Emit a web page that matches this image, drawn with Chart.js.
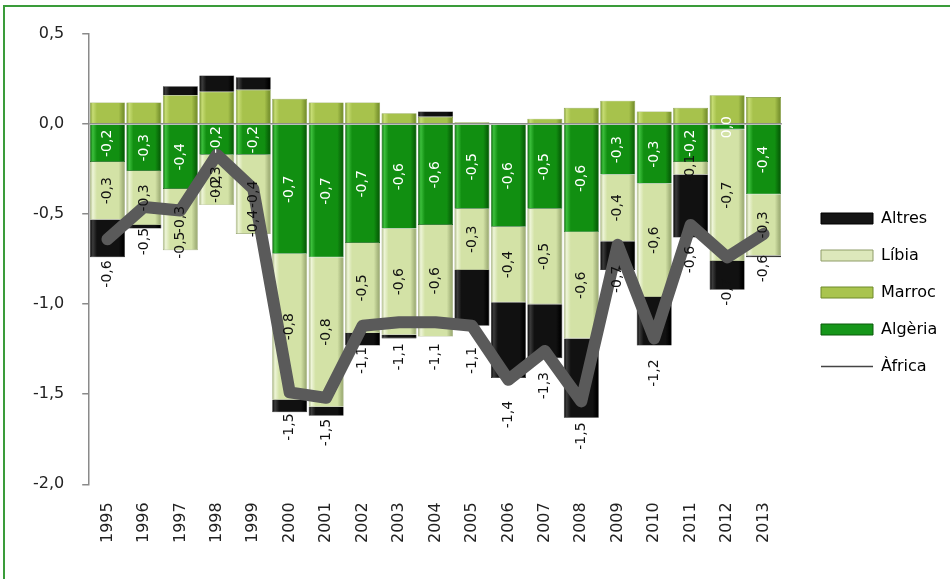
<!DOCTYPE html>
<html>
<head>
<meta charset="utf-8">
<script src="https://cdn.jsdelivr.net/npm/chart.js@4/dist/chart.umd.min.js"></script>
<style>
  html, body { margin: 0; padding: 0; background: #fff; }
  #wrap { position: relative; width: 950px; height: 579px; overflow: hidden; }
  #frame { position: absolute; left: 3px; top: 5px; width: 960px; height: 600px;
           border-left: 2px solid #3a9c3a; border-top: 2px solid #3a9c3a; pointer-events: none; }
  canvas { position: absolute; left: 0; top: 0; }
</style>
</head>
<body>
<div id="wrap">
  <canvas id="c" width="950" height="579"></canvas>
  <div id="frame"></div>
</div>
<script>
const years = ['1995','1996','1997','1998','1999','2000','2001','2002','2003','2004','2005','2006','2007','2008','2009','2010','2011','2012','2013'];
const algeria = [-0.21,-0.26,-0.36,-0.17,-0.17,-0.72,-0.74,-0.66,-0.58,-0.56,-0.47,-0.57,-0.47,-0.60,-0.28,-0.33,-0.21,-0.03,-0.39];
const libia   = [-0.32,-0.30,-0.34,-0.28,-0.44,-0.81,-0.83,-0.50,-0.59,-0.62,-0.34,-0.42,-0.53,-0.59,-0.37,-0.63,-0.07,-0.73,-0.34];
const marroc  = [0.12,0.12,0.16,0.18,0.19,0.14,0.12,0.12,0.06,0.04,0.01,0.005,0.03,0.09,0.13,0.07,0.09,0.16,0.15];
const altres  = [-0.21,-0.02,0.05,0.09,0.07,-0.07,-0.05,-0.07,-0.02,0.03,-0.31,-0.42,-0.30,-0.44,-0.16,-0.27,-0.35,-0.16,-0.01];
const africa  = [-0.64,-0.46,-0.48,-0.17,-0.36,-1.49,-1.52,-1.12,-1.10,-1.10,-1.12,-1.42,-1.26,-1.54,-0.67,-1.19,-0.56,-0.74,-0.61];
const yTicks = [0.5, 0.0, -0.5, -1.0, -1.5, -2.0];

const BAR_PCT = 0.96;
function fmt(v) {
  let s = v.toFixed(1);
  if (s === '-0.0') s = '0.0';
  return s.replace('.', ',');
}
function bevel(base, light, dark) {
  return (ctx) => {
    const chart = ctx.chart;
    if (!chart.chartArea || ctx.type !== 'data') return base;
    const xs = chart.scales.x;
    const cx = xs.getPixelForValue(ctx.dataIndex);
    const w = xs.width / years.length * BAR_PCT;
    const g = chart.ctx.createLinearGradient(cx - w / 2, 0, cx + w / 2, 0);
    g.addColorStop(0, dark);
    g.addColorStop(0.08, light);
    g.addColorStop(0.2, base);
    g.addColorStop(0.82, base);
    g.addColorStop(0.95, dark);
    g.addColorStop(1, dark);
    return g;
  };
}

const labelPlugin = {
  id: 'labels',
  afterDatasetsDraw(chart) {
    const ctx = chart.ctx;
    ctx.save();
    ctx.font = '14px "DejaVu Sans", sans-serif';
    const specs = [
      { ds: 1, color: '#ffffff', vals: algeria },
      { ds: 2, color: '#111111', vals: libia }
    ];
    specs.forEach(sp => {
      const meta = chart.getDatasetMeta(sp.ds);
      meta.data.forEach((el, i) => {
        const y = (el.y + el.base) / 2;
        ctx.save();
        ctx.translate(el.x, y);
        ctx.rotate(-Math.PI / 2);
        ctx.fillStyle = sp.color;
        ctx.textAlign = 'center';
        ctx.textBaseline = 'middle';
        ctx.fillText(fmt(sp.vals[i]), 0, 0);
        ctx.restore();
      });
    });
    const lm = chart.getDatasetMeta(0);
    lm.data.forEach((el, i) => {
      ctx.save();
      ctx.translate(el.x, el.y + 21);
      ctx.rotate(-Math.PI / 2);
      ctx.fillStyle = '#111111';
      ctx.textAlign = 'right';
      ctx.textBaseline = 'middle';
      ctx.fillText(fmt(africa[i]), 0, 0);
      ctx.restore();
    });
    ctx.restore();
  }
};

const legendShift = {
  id: 'legendShift',
  afterLayout(chart) {
    const lg = chart.legend;
    if (!lg) return;
    const dx = 800 - lg.left;
    lg.left += dx; lg.right += dx;
    lg.top -= 5; lg.bottom -= 5;
  }
};

Chart.defaults.font.family = '"DejaVu Sans", sans-serif';
Chart.defaults.font.size = 16;
Chart.defaults.color = '#222';

new Chart(document.getElementById('c'), {
  data: {
    labels: years,
    datasets: [
      { type: 'line', label: 'Àfrica', data: africa, stack: 'line', order: 0,
        borderColor: '#5a5a5a', borderWidth: 12, pointRadius: 0,
        borderJoinStyle: 'round', borderCapStyle: 'round', tension: 0, fill: false },
      { type: 'bar', label: 'Algèria', data: algeria, stack: 's', order: 1,
        backgroundColor: bevel('#118f11', '#3cbf3c', '#076207'), borderColor: '#0a5a0a', borderWidth: 0.6,
        barPercentage: BAR_PCT, categoryPercentage: 1 },
      { type: 'bar', label: 'Líbia', data: libia, stack: 's', order: 1,
        backgroundColor: bevel('#d3e2a6', '#eef5d8', '#a3b27a'), borderColor: '#8f9d68', borderWidth: 0.6,
        barPercentage: BAR_PCT, categoryPercentage: 1 },
      { type: 'bar', label: 'Marroc', data: marroc, stack: 's', order: 1,
        backgroundColor: bevel('#a7c24c', '#c6dc74', '#7b9530'), borderColor: '#6f8a2a', borderWidth: 0.6,
        barPercentage: BAR_PCT, categoryPercentage: 1 },
      { type: 'bar', label: 'Altres', data: altres, stack: 's', order: 1,
        backgroundColor: bevel('#111111', '#3c3c3c', '#000000'), borderColor: '#000', borderWidth: 0.6,
        barPercentage: BAR_PCT, categoryPercentage: 1 }
    ]
  },
  options: {
    responsive: false,
    animation: false,
    events: [],
    layout: { padding: { left: 15, top: 34, right: 21, bottom: 18 } },
    scales: {
      x: {
        stacked: true,
        grid: { display: false, drawTicks: false },
        border: { display: false },
        ticks: { minRotation: 90, maxRotation: 90, padding: 18, autoSkip: false, color: '#222' }
      },
      y: {
        stacked: true,
        min: -2, max: 0.5,
        afterBuildTicks(scale) { scale.ticks = yTicks.map(v => ({ value: v })); },
        grid: {
          color: (c) => (c.tick && c.tick.value === 0 ? '#8a8a8a' : 'rgba(0,0,0,0)'),
          lineWidth: 1.5,
          tickColor: '#8a8a8a', tickLength: 7, drawTicks: true
        },
        border: { display: true, color: '#8a8a8a', width: 1.5 },
        ticks: { padding: 18, color: '#222', callback: (v) => fmt(v) }
      }
    },
    plugins: {
      tooltip: { enabled: false },
      legend: {
        position: 'right',
        align: 'center',
        labels: {
          usePointStyle: true,
          pointStyleWidth: 52,
          boxHeight: 11,
          padding: 21,
          color: '#222',
          font: { size: 16 },
          generateLabels: () => [
            { text: 'Altres',  fillStyle: '#151515', strokeStyle: '#000000', lineWidth: 1, pointStyle: 'rect', datasetIndex: 4, hidden: false },
            { text: 'Líbia',   fillStyle: '#dde8bb', strokeStyle: '#8f9d68', lineWidth: 1, pointStyle: 'rect', datasetIndex: 2, hidden: false },
            { text: 'Marroc',  fillStyle: '#a9c44e', strokeStyle: '#6f8a2a', lineWidth: 1, pointStyle: 'rect', datasetIndex: 3, hidden: false },
            { text: 'Algèria', fillStyle: '#16961a', strokeStyle: '#0a5a0a', lineWidth: 1, pointStyle: 'rect', datasetIndex: 1, hidden: false },
            { text: 'Àfrica',  fillStyle: '#444444', strokeStyle: '#444444', lineWidth: 1.5, pointStyle: 'line', datasetIndex: 0, hidden: false }
          ]
        }
      }
    }
  },
  plugins: [labelPlugin, legendShift]
});
</script>
</body>
</html>
